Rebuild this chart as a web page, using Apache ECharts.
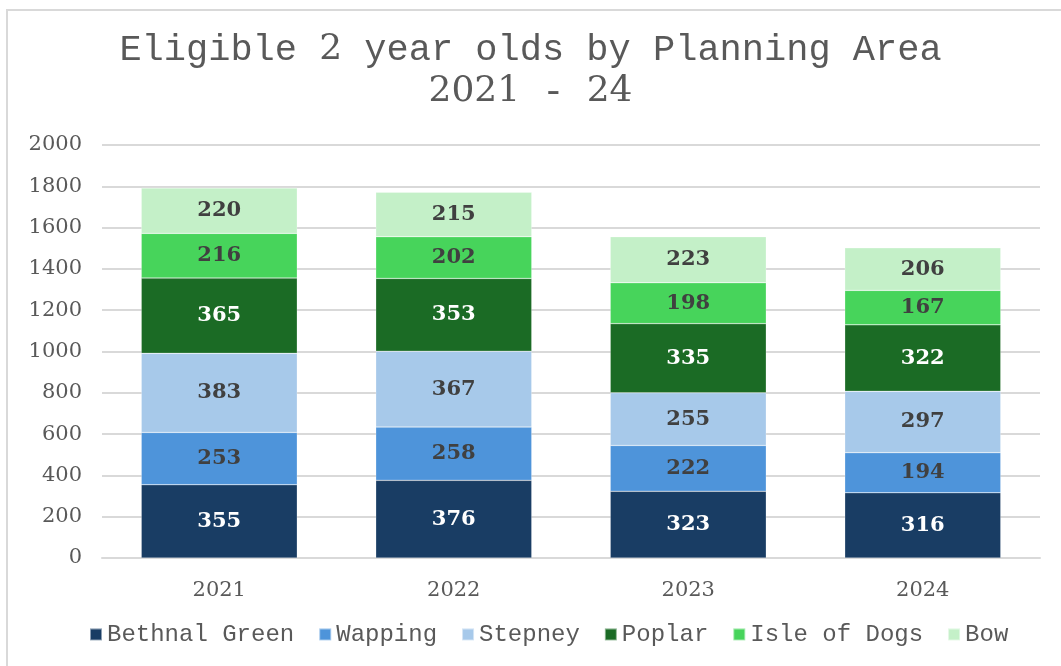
<!DOCTYPE html>
<head>
    <title>ECharts</title>
    <script src="https://cdn.jsdelivr.net/npm/echarts@6/dist/echarts.min.js"></script>
    <style>body{margin:0;background:#fff;}</style>
</head>
<body>
    <div id="main" style="width:1061px;height:666px"></div>
    <script type="text/javascript">
        var years = ['2021', '2022', '2023', '2024'];
        var areas = ['Bethnal Green', 'Wapping', 'Stepney', 'Poplar', 'Isle of Dogs', 'Bow'];
        var bethnalGreen = [355, 376, 323, 316];
        var wapping = [253, 258, 222, 194];
        var stepney = [383, 367, 255, 297];
        var poplar = [365, 353, 335, 322];
        var isleOfDogs = [216, 202, 198, 167];
        var bow = [220, 215, 223, 206];
        var yTicks = [0, 200, 400, 600, 800, 1000, 1200, 1400, 1600, 1800, 2000];

        var values = [bethnalGreen, wapping, stepney, poplar, isleOfDogs, bow];
        var colors = ['#193d64', '#4e94da', '#a7c9ea', '#1b6b25', '#47d45b', '#c4f0c8'];
        var labelColors = ['#ffffff', '#404040', '#404040', '#ffffff', '#404040', '#404040'];

        var mono = '"Liberation Mono", "DejaVu Sans Mono", monospace';
        var serif = '"DejaVu Serif", "Liberation Serif", serif';

        var myChart = echarts.init(document.getElementById('main'));

        var series = [];
        for (var i = 0; i < areas.length; i++) {
            series.push({
                name: areas[i],
                type: 'bar',
                stack: 'total',
                barWidth: 156,
                data: values[i],
                itemStyle: { color: colors[i], borderColor: 'rgba(255,255,255,0.5)', borderWidth: 0.5 },
                label: {
                    show: true,
                    position: 'inside',
                    color: labelColors[i],
                    fontFamily: serif,
                    fontWeight: 'bold',
                    fontSize: 21
                }
            });
        }

        var option = {
            animation: false,
            backgroundColor: '#fff',
            graphic: [{
                type: 'rect',
                shape: { x: 7, y: 10, width: 1100, height: 700 },
                style: { fill: 'none', stroke: '#d9d9d9', lineWidth: 2 }
            }],
            title: {
                left: 'center',
                top: 24,
                text: '{m|Eligible }{s|2}{m| year olds by Planning Area}\n{s|2021}{m| - }{s|24}',
                textStyle: {
                    fontWeight: 'normal',
                    rich: {
                        m: { fontFamily: mono, fontSize: 37, fontWeight: 'normal', color: '#595959', lineHeight: 42 },
                        s: { fontFamily: serif, fontSize: 36, fontWeight: 'normal', color: '#595959', lineHeight: 42 }
                    }
                }
            },
            legend: {
                data: areas,
                bottom: 5,
                left: 84,
                icon: 'rect',
                itemWidth: 12,
                itemHeight: 12,
                itemGap: 24,
                textStyle: { fontFamily: mono, fontSize: 24, color: '#595959' }
            },
            grid: { left: 102, right: 21, top: 145, bottom: 108 },
            xAxis: {
                type: 'category',
                data: years,
                axisLine: { lineStyle: { color: '#d9d9d9', width: 2 } },
                axisTick: { show: false },
                axisLabel: { fontFamily: serif, fontSize: 21, color: '#595959', margin: 12 }
            },
            yAxis: {
                type: 'value',
                min: yTicks[0],
                max: yTicks[yTicks.length - 1],
                interval: 200,
                axisLine: { show: false },
                axisTick: { show: false },
                splitLine: { lineStyle: { color: '#d9d9d9', width: 2 } },
                axisLabel: {
                    fontFamily: serif, fontSize: 21, color: '#595959', margin: 20,
                    formatter: function (v) { return String(v); }
                }
            },
            series: series
        };

        myChart.setOption(option);
    </script>
</body>
